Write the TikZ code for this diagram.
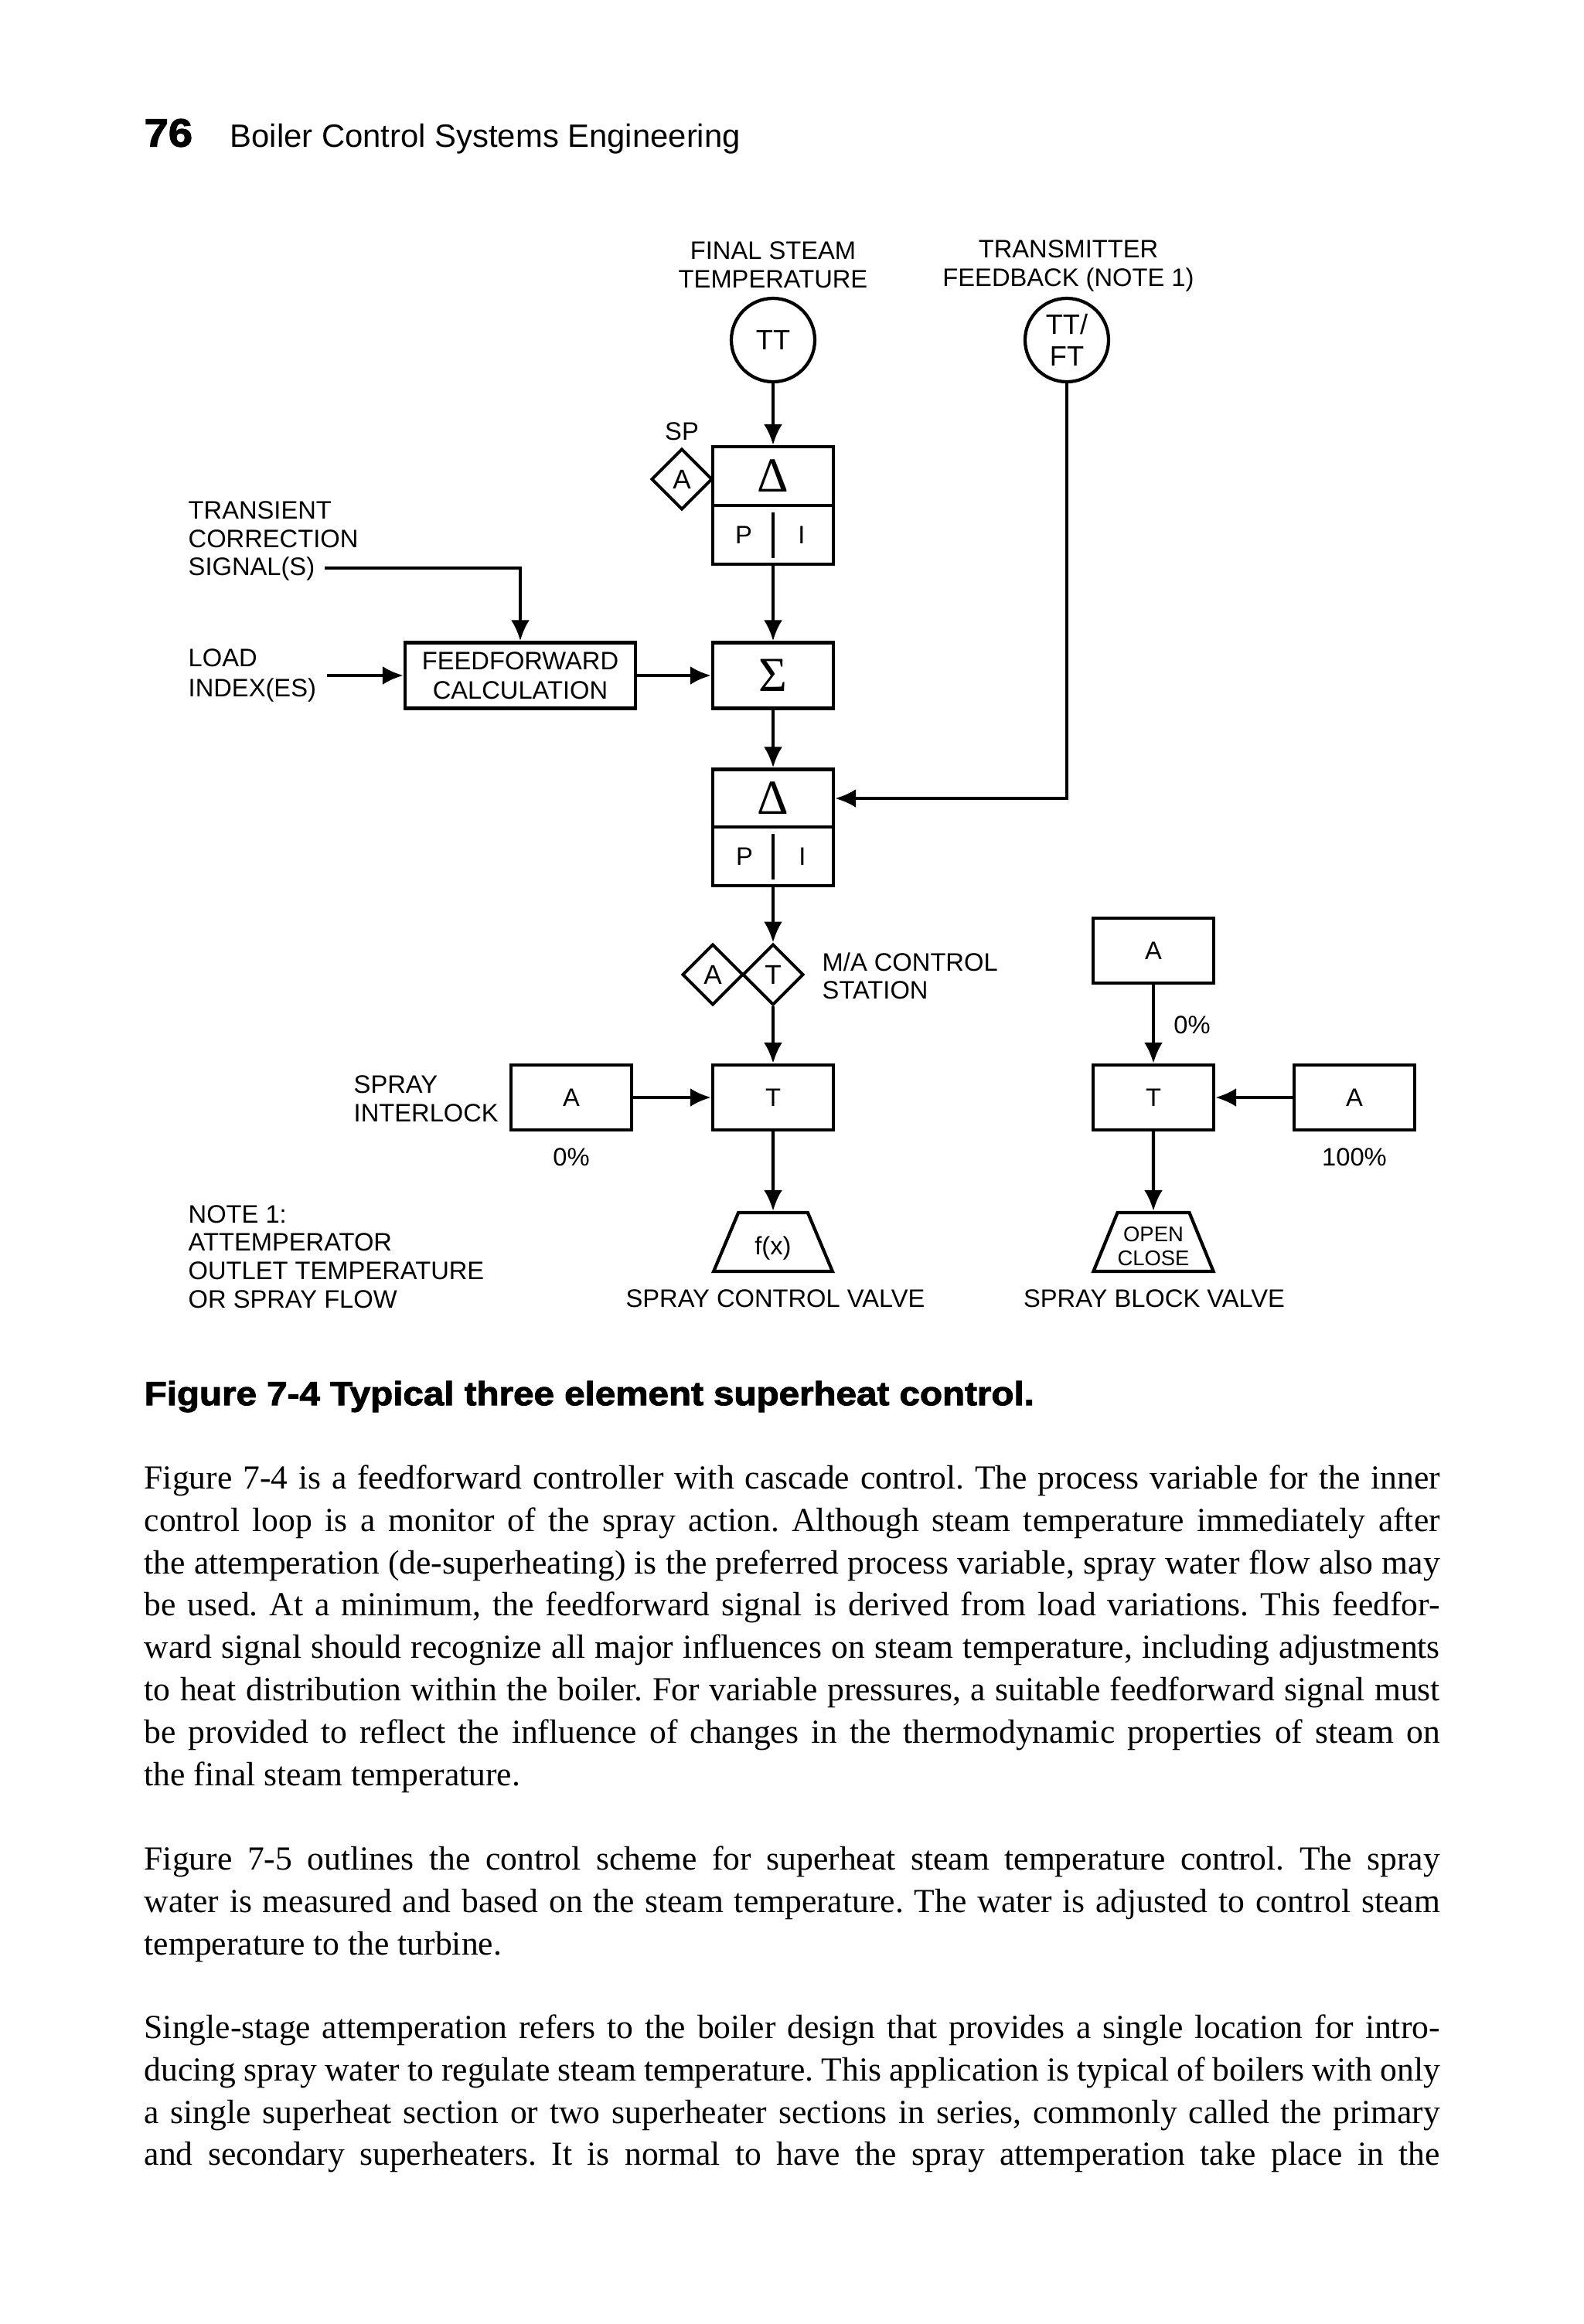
\documentclass[tikz,border=0pt]{standalone}
\usepackage{fontspec}
\setmainfont{Liberation Sans}
\newfontfamily\serifbody{Liberation Serif}
\newfontfamily\capfont[BoldFeatures={FakeBold=2.4,FakeStretch=1.1}]{Liberation Sans}
\usetikzlibrary{shapes.geometric, arrows.meta, positioning, calc}

\begin{document}
\begin{tikzpicture}[
    font=\fontsize{9.3}{10.4}\selectfont,
    block/.style={
        rectangle, draw=black, line width=1.2pt,
        fill=white, inner sep=0pt,
        minimum width=1.56cm, minimum height=0.84cm, align=center
    },
    halfblock/.style={block, minimum height=0.76cm},
    greekblock/.style={block, font=\serifbody\fontsize{18}{18}\selectfont},
    instrument/.style={
        circle, draw=black, line width=1.2pt,
        minimum size=1.08cm, inner sep=0pt, align=center,
        font=\fontsize{10.3}{11.8}\selectfont
    },
    station/.style={
        diamond, draw=black, line width=1.1pt,
        aspect=1, minimum size=0.79cm, inner sep=0pt, align=center,
        font=\fontsize{10}{11}\selectfont
    },
    valve/.style={
        trapezium, draw=black, line width=1.2pt, trapezium stretches=true,
        trapezium left angle=63, trapezium right angle=63,
        minimum width=1.54cm, minimum height=0.76cm, inner sep=0pt, align=center
    },
    label/.style={align=left, inner sep=0pt},
    clabel/.style={align=center, inner sep=0pt},
    body/.style={
        anchor=north west, inner sep=0pt, text width=16.76cm, align=justify,
        font=\serifbody\fontsize{12.4}{15.6}\selectfont\frenchspacing
    },
    line/.style={draw=black, line width=1.2pt},
    flow/.style={line, -{Latex[length=0.27cm,width=0.24cm]}}
]
\useasboundingbox (0,0) rectangle (20.48,-30.07);

% ---------------------------------------------------------------------
% 1. PAGE HEADER
% ---------------------------------------------------------------------
\node[label, anchor=west, font=\capfont\bfseries\fontsize{14.5}{14.5}\selectfont] (PageNo) at (1.86, -1.72) {76};
\node[label, anchor=west, font=\fontsize{11.9}{13}\selectfont] (PageHead) at (2.97, -1.80) {Boiler Control Systems Engineering};

% ---------------------------------------------------------------------
% 2. CENTER COLUMN: CONTROLLERS
% ---------------------------------------------------------------------
\node[clabel] (SteamLbl) at (10, -3.43) {FINAL STEAM\\TEMPERATURE};
\node[clabel] (FeedbackLbl) at (13.82, -3.44) {TRANSMITTER\\FEEDBACK (NOTE 1)};

\node[instrument] (TT) at (10, -4.40) {TT};
\node[instrument] (TTFT) at (13.80, -4.40) {TT/\\FT};

\node[greekblock, minimum height=0.76cm] (DeltaA) at (10, -6.16) {Δ};
\node[halfblock] (PIA) at (10, -6.92) {};
\node[label] (PA) at (9.62, -6.92) {P};
\node[label] (IA) at (10.37, -6.92) {I};
\draw[line] ($(PIA.north)+(0,-0.11)$) -- ($(PIA.south)+(0,0.1)$);

\node[station] (SP) at (8.82, -6.20) {A};
\node[clabel] (SPLbl) at (8.82, -5.58) {SP};

\node[greekblock, minimum height=0.85cm] (Sum) at (10, -8.74) {Σ};

\node[greekblock, minimum height=0.75cm] (DeltaB) at (10, -10.33) {Δ};
\node[halfblock] (PIB) at (10, -11.08) {};
\node[label] (PB) at (9.63, -11.08) {P};
\node[label] (IB) at (10.38, -11.08) {I};
\draw[line] ($(PIB.north)+(0,-0.11)$) -- ($(PIB.south)+(0,0.1)$);

\node[station] (StA) at (9.22, -12.61) {A};
\node[station] (StT) at (10, -12.61) {T};
\node[label, anchor=west] (StationLbl) at (10.63, -12.63) {M/A CONTROL\\STATION};

\node[block] (TLeft) at (10, -14.20) {T};
\node[valve] (FxValve) at (10, -16.07) {\raisebox{0pt}[9.4pt][0pt]{f(x)}};
\node[clabel] (FxLbl) at (10.03, -16.80) {SPRAY CONTROL VALVE};

% ---------------------------------------------------------------------
% 3. LEFT: FEEDFORWARD AND INTERLOCK
% ---------------------------------------------------------------------
\node[label, anchor=west] (TransientLbl) at (2.43, -7.00) {TRANSIENT\\CORRECTION\\SIGNAL(S)};
\node[label, anchor=west, font=\fontsize{9.3}{11.2}\selectfont] (LoadLbl) at (2.43, -8.74) {LOAD\\INDEX(ES)};
\coordinate (TransientEnd) at (4.20, -7.35);
\coordinate (LoadEnd) at (4.23, -8.74);

\node[block, minimum width=2.98cm, minimum height=0.85cm, font=\fontsize{9.3}{10.9}\selectfont] (Feedforward) at (6.73, -8.74) {FEEDFORWARD\\CALCULATION};

\node[block] (ALeft) at (7.39, -14.20) {A};
\node[label, anchor=west] (InterlockLbl) at (4.57, -14.22) {SPRAY\\INTERLOCK};
\node[clabel] (ALeftPct) at (7.39, -14.97) {0\%};

\node[label, anchor=west] (NoteLbl) at (2.43, -16.26) {NOTE 1:\\ATTEMPERATOR\\OUTLET TEMPERATURE\\OR SPRAY FLOW};

% ---------------------------------------------------------------------
% 4. RIGHT: BLOCK VALVE
% ---------------------------------------------------------------------
\node[block] (ATop) at (14.92, -12.30) {A};
\node[clabel] (ATopPct) at (15.42, -13.26) {0\%};
\node[block] (TRight) at (14.92, -14.20) {T};
\node[block] (ARight) at (17.52, -14.20) {A};
\node[clabel] (ARightPct) at (17.52, -14.97) {100\%};
\node[valve, font=\fontsize{7.8}{8.9}\selectfont] (BlockValve) at (14.92, -16.07) {\raisebox{0pt}[8.4pt][0pt]{OPEN}\\CLOSE};
\node[clabel] (BlockLbl) at (14.93, -16.80) {SPRAY BLOCK VALVE};

% ---------------------------------------------------------------------
% CONNECTIONS
% ---------------------------------------------------------------------
\draw[flow] (TT) -- (DeltaA);
\draw[flow] (PIA) -- (Sum);
\draw[flow] (Sum) -- (DeltaB);
\draw[flow] (PIB) -- (StT);
\draw[flow] (StT) -- (TLeft);
\draw[flow] (TLeft) -- (FxValve);

\draw[flow] (TransientEnd) -| (Feedforward);
\draw[flow] (LoadEnd) -- (Feedforward);
\draw[flow] (Feedforward) -- (Sum);
\draw[flow] (TTFT) |- (DeltaB);
\draw[flow] (ALeft) -- (TLeft);

\draw[flow] (ATop) -- (TRight);
\draw[flow] (ARight) -- (TRight);
\draw[flow] (TRight) -- (BlockValve);

% ---------------------------------------------------------------------
% CAPTION AND PAGE TEXT
% ---------------------------------------------------------------------
\node[label, anchor=west, font=\capfont\bfseries\fontsize{12.3}{14}\selectfont] (Caption) at (1.86, -18.07) {Figure 7-4 Typical three element superheat control.};

\node[body] (ParaOne) at (1.86, -18.95) {Figure 7-4 is a feedforward controller with cascade control. The process variable for the inner\linebreak
control loop is a monitor of the spray action. Although steam temperature immediately after\linebreak
the attemperation (de-superheating) is the preferred process variable, spray water flow also may\linebreak
be used. At a minimum, the feedforward signal is derived from load variations. This feedfor-\linebreak
ward signal should recognize all major influences on steam temperature, including adjustments\linebreak
to heat distribution within the boiler. For variable pressures, a suitable feedforward signal must\linebreak
be provided to reflect the influence of changes in the thermodynamic properties of steam on\linebreak
the final steam temperature.};

\node[body] (ParaTwo) at (1.86, -23.88) {Figure 7-5 outlines the control scheme for superheat steam temperature control. The spray\linebreak
water is measured and based on the steam temperature. The water is adjusted to control steam\linebreak
temperature to the turbine.};

\node[body] (ParaThree) at (1.86, -26.06) {Single-stage attemperation refers to the boiler design that provides a single location for intro-\linebreak
ducing spray water to regulate steam temperature. This application is typical of boilers with only\linebreak
a single superheat section or two superheater sections in series, commonly called the primary\linebreak
and secondary superheaters. It is normal to have the spray attemperation take place in the\parfillskip=0pt\par};

\end{tikzpicture}
\end{document}
